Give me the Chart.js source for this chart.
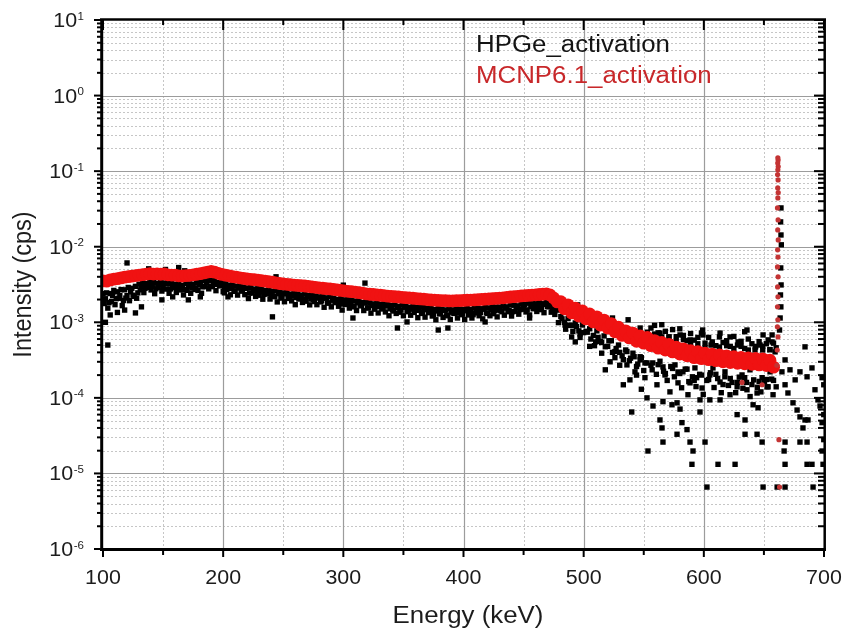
<!DOCTYPE html>
<html>
<head>
<meta charset="utf-8">
<script src="https://cdn.jsdelivr.net/npm/chart.js@4.4.0/dist/chart.umd.min.js"></script>
<style>
  html, body { margin: 0; padding: 0; background: #fff; }
  #wrap { width: 844px; height: 632px; }
</style>
</head>
<body>
<div id="wrap"><canvas id="chart" width="844" height="632"></canvas></div>
<script>
// energies of the dense continuum, read every 3 keV
const bandEnergy = [
  100,103,106,109,112,115,118,121,124,127,
  130,133,136,139,142,145,148,151,154,157,
  160,163,166,169,172,175,178,181,184,187,
  190,193,196,199,202,205,208,211,214,217,
  220,223,226,229,232,235,238,241,244,247,
  250,253,256,259,262,265,268,271,274,277,
  280,283,286,289,292,295,298,301,304,307,
  310,313,316,319,322,325,328,331,334,337,
  340,343,346,349,352,355,358,361,364,367,
  370,373,376,379,382,385,388,391,394,397,
  400,403,406,409,412,415,418,421,424,427,
  430,433,436,439,442,445,448,451,454,457,
  460,463,466,469,472,475,478,481,484,487,
  490,493,496,499,502,505,508,511,514,517,
  520,523,526,529,532,535,538,541,544,547,
  550,553,556,559,562,565,568,571,574,577,
  580,583,586,589,592,595,598,601,604,607,
  610,613,616,619,622,625,628,631,634,637,
  640,643,646,649,652,655,658
];

// MCNP6.1 simulated spectrum (cps) at bandEnergy
const mcnpCps = [
  3.53e-3,3.50e-3,3.64e-3,3.72e-3,3.78e-3,3.87e-3,3.95e-3,4.02e-3,4.08e-3,4.15e-3,
  4.20e-3,4.26e-3,4.33e-3,4.40e-3,4.35e-3,4.38e-3,4.32e-3,4.36e-3,4.25e-3,4.22e-3,
  4.20e-3,4.12e-3,4.10e-3,4.14e-3,4.18e-3,4.25e-3,4.32e-3,4.40e-3,4.50e-3,4.62e-3,
  4.70e-3,4.60e-3,4.45e-3,4.30e-3,4.20e-3,4.12e-3,4.02e-3,3.95e-3,3.88e-3,3.80e-3,
  3.74e-3,3.70e-3,3.66e-3,3.62e-3,3.55e-3,3.50e-3,3.44e-3,3.40e-3,3.32e-3,3.26e-3,
  3.22e-3,3.18e-3,3.14e-3,3.10e-3,3.08e-3,3.05e-3,3.02e-3,2.98e-3,2.94e-3,2.90e-3,
  2.86e-3,2.82e-3,2.79e-3,2.76e-3,2.72e-3,2.68e-3,2.64e-3,2.60e-3,2.57e-3,2.54e-3,
  2.51e-3,2.47e-3,2.43e-3,2.38e-3,2.35e-3,2.33e-3,2.30e-3,2.28e-3,2.25e-3,2.22e-3,
  2.20e-3,2.18e-3,2.16e-3,2.14e-3,2.12e-3,2.10e-3,2.08e-3,2.06e-3,2.04e-3,2.02e-3,
  2.00e-3,1.98e-3,1.96e-3,1.95e-3,1.94e-3,1.93e-3,1.92e-3,1.92e-3,1.93e-3,1.94e-3,
  1.95e-3,1.96e-3,1.97e-3,1.98e-3,2.00e-3,2.01e-3,2.02e-3,2.04e-3,2.06e-3,2.07e-3,
  2.09e-3,2.11e-3,2.13e-3,2.16e-3,2.18e-3,2.20e-3,2.23e-3,2.25e-3,2.27e-3,2.29e-3,
  2.31e-3,2.33e-3,2.35e-3,2.37e-3,2.30e-3,2.10e-3,1.86e-3,1.87e-3,1.51e-3,1.70e-3,
  1.33e-3,1.54e-3,1.21e-3,1.41e-3,1.11e-3,1.29e-3,1.01e-3,1.18e-3,9.2e-4,1.07e-3,
  8.4e-4,9.6e-4,7.5e-4,8.6e-4,6.7e-4,7.7e-4,6.2e-4,7.2e-4,5.6e-4,6.6e-4,
  5.3e-4,6.3e-4,4.9e-4,5.7e-4,4.55e-4,5.4e-4,4.3e-4,5.1e-4,4.05e-4,4.7e-4,
  3.8e-4,4.45e-4,3.6e-4,4.2e-4,3.4e-4,4.1e-4,3.3e-4,3.9e-4,3.2e-4,3.8e-4,
  3.1e-4,3.7e-4,3.0e-4,3.6e-4,2.93e-4,3.5e-4,2.87e-4,3.43e-4,2.82e-4,3.38e-4,
  2.78e-4,3.32e-4,2.73e-4,3.28e-4,2.68e-4,3.15e-4,2.55e-4
];

// MCNP6.1 points in the 662 keV photopeak and a few strays
const mcnpPeakEnergy = [
  661.6,661.8,661.5,661.9,661.6,661.4,661.8,661.5,661.9,661.6,
  661.3,661.8,661.5,661.9,661.4,661.7,661.3,661.8,661.4,661.7,
  661.3,661.6,661.2,661.7,661.1,660.8,662.5,663.0,648.5,631.8
];
const mcnpPeakCps = [
  0.150,0.140,0.128,0.115,0.104,0.090,0.0765,0.060,0.052,0.0442,
  0.0326,0.0226,0.0167,0.0123,9.1e-3,7.3e-3,5.4e-3,4.0e-3,2.94e-3,2.17e-3,
  1.60e-3,1.08e-3,8.7e-4,6.4e-4,4.3e-4,2.7e-4,2.8e-5,6.6e-6,1.49e-4,1.6e-4
];

// HPGe measured spectrum (cps) at bandEnergy
const hpgeBandCps = [
  2.40e-3,2.45e-3,2.40e-3,2.64e-3,2.53e-3,2.71e-3,2.69e-3,2.89e-3,2.82e-3,2.99e-3,
  3.19e-3,3.32e-3,3.25e-3,3.48e-3,3.35e-3,3.29e-3,3.37e-3,3.31e-3,3.36e-3,3.25e-3,
  3.19e-3,3.21e-3,3.08e-3,3.27e-3,3.22e-3,3.19e-3,3.37e-3,3.34e-3,3.56e-3,3.56e-3,
  3.57e-3,3.59e-3,3.34e-3,3.40e-3,3.23e-3,3.09e-3,3.14e-3,3.00e-3,3.07e-3,2.93e-3,
  2.84e-3,2.89e-3,2.75e-3,2.86e-3,2.73e-3,2.63e-3,2.68e-3,2.58e-3,2.62e-3,2.51e-3,
  2.45e-3,2.48e-3,2.36e-3,2.45e-3,2.37e-3,2.29e-3,2.36e-3,2.26e-3,2.32e-3,2.23e-3,
  2.17e-3,2.20e-3,2.09e-3,2.18e-3,2.09e-3,2.01e-3,2.06e-3,1.98e-3,2.03e-3,1.96e-3,
  1.91e-3,1.93e-3,1.82e-3,1.88e-3,1.81e-3,1.75e-3,1.79e-3,1.73e-3,1.78e-3,1.71e-3,
  1.67e-3,1.70e-3,1.62e-3,1.69e-3,1.63e-3,1.58e-3,1.62e-3,1.57e-3,1.61e-3,1.56e-3,
  1.52e-3,1.54e-3,1.47e-3,1.54e-3,1.49e-3,1.45e-3,1.50e-3,1.46e-3,1.52e-3,1.49e-3,
  1.48e-3,1.53e-3,1.48e-3,1.56e-3,1.54e-3,1.51e-3,1.58e-3,1.55e-3,1.63e-3,1.59e-3,
  1.59e-3,1.65e-3,1.60e-3,1.71e-3,1.68e-3,1.65e-3,1.74e-3,1.71e-3,1.79e-3,1.76e-3,
  1.76e-3,1.82e-3,1.76e-3,1.87e-3,1.77e-3,1.58e-3,1.45e-3,1.19e-3,1.00e-3,1.12e-3,
  9.1e-4,9.8e-4,7.7e-4,9.2e-4,7.6e-4,8.2e-4,6.7e-4,7.7e-4,5.6e-4,6.6e-4,
  4.8e-4,5.7e-4,4.1e-4,5.0e-4,3.6e-4,4.3e-4,3.1e-4,3.9e-4,2.6e-4,3.5e-4,
  2.3e-4,7.4e-4,2.7e-4,7.0e-4,2.75e-4,6.4e-4,2.1e-4,6.4e-4,2.45e-4,5.6e-4,
  2.1e-4,5.9e-4,2.4e-4,5.2e-4,1.7e-4,5.2e-4,2.0e-4,4.6e-4,1.75e-4,5.2e-4,
  2.05e-4,4.7e-4,1.5e-4,4.9e-4,1.8e-4,4.5e-4,1.6e-4,4.8e-4,1.85e-4,4.3e-4,
  1.5e-4,4.8e-4,1.65e-4,4.3e-4,1.75e-4,4.35e-4,1.7e-4
];

// HPGe middle of the continuum mass
const hpgeMidEnergy = [
  102,105,108,111,114,117,120,123,126,129,
  132,135,138,141,144,147,150,153,156,159,
  162,165,168,171,174,177,180,183,186,189,
  192,195,198,201,204,207,210,213,216,219,
  222,225,228,231,234,237,240,243,246,249,
  252,255,258,261,264,267,270,273,276,279,
  282,285,288,291,294,297,300,303,306,309,
  312,315,318,321,324,327,330,333,336,339,
  342,345,348,351,354,357,360,363,366,369,
  372,375,378,381,384,387,390,393,396,399,
  402,405,408,411,414,417,420,423,426,429,
  432,435,438,441,444,447,450,453,456,459,
  462,465,468,471,474
];
const hpgeMidCps = [
  2.05e-3,1.82e-3,2.26e-3,2.05e-3,2.27e-3,1.94e-3,2.25e-3,2.53e-3,2.20e-3,2.45e-3,
  2.94e-3,2.81e-3,3.16e-3,2.99e-3,2.78e-3,3.15e-3,2.89e-3,3.23e-3,2.76e-3,3.00e-3,
  2.90e-3,2.88e-3,2.71e-3,3.02e-3,2.84e-3,2.72e-3,3.11e-3,2.95e-3,3.33e-3,3.00e-3,
  3.34e-3,3.17e-3,3.12e-3,2.84e-3,3.07e-3,2.80e-3,2.57e-3,2.84e-3,2.60e-3,2.81e-3,
  2.43e-3,2.63e-3,2.53e-3,2.53e-3,2.34e-3,2.56e-3,2.34e-3,2.18e-3,2.39e-3,2.18e-3,
  2.38e-3,2.07e-3,2.23e-3,2.14e-3,2.16e-3,2.01e-3,2.20e-3,2.03e-3,1.88e-3,2.09e-3,
  1.92e-3,2.09e-3,1.81e-3,1.96e-3,1.88e-3,1.88e-3,1.74e-3,1.90e-3,1.75e-3,1.63e-3,
  1.81e-3,1.65e-3,1.80e-3,1.55e-3,1.67e-3,1.61e-3,1.61e-3,1.50e-3,1.64e-3,1.51e-3,
  1.41e-3,1.57e-3,1.45e-3,1.58e-3,1.38e-3,1.49e-3,1.44e-3,1.44e-3,1.35e-3,1.47e-3,
  1.36e-3,1.27e-3,1.41e-3,1.31e-3,1.44e-3,1.25e-3,1.36e-3,1.32e-3,1.35e-3,1.28e-3,
  1.42e-3,1.33e-3,1.26e-3,1.43e-3,1.34e-3,1.49e-3,1.31e-3,1.45e-3,1.42e-3,1.45e-3,
  1.38e-3,1.54e-3,1.45e-3,1.38e-3,1.57e-3,1.47e-3,1.65e-3,1.46e-3,1.61e-3,1.58e-3,
  1.62e-3,1.54e-3,1.72e-3,1.61e-3,1.47e-3
];

// HPGe lower edge of the continuum
const hpgeLowerEnergy = [
  101,104,107,110,113,116,119,122,125,128,
  131,134,137,140,143,146,149,152,155,158,
  161,164,167,170,173,176,179,182,185,188,
  191,194,197,200,203,206,209,212,215,218,
  221,224,227,230,233,236,239,242,245,248,
  251,254,257,260,263,266,269,272,275,278,
  281,284,287,290,293,296,299,302,305,308,
  311,314,317,320,323,326,329,332,335,338,
  341,344,347,350,353,356,359,362,365,368,
  371,374,377,380,383,386,389,392,395,398,
  401,404,407,410,413,416,419,422,425,428,
  431,434,437,440,443,446,449,452,455,458,
  461,464,467,470,473,476,479,482,485,488,
  491,494,497,500,503,506,509,512,515,518,
  521,524,527,530,533,536,539,542,545,548,
  551
];
const hpgeLowerCps = [
  1.77e-3,1.54e-3,1.89e-3,1.71e-3,2.08e-3,1.66e-3,2.09e-3,1.93e-3,2.28e-3,2.08e-3,
  2.69e-3,2.47e-3,2.90e-3,2.68e-3,2.39e-3,2.89e-3,2.59e-3,2.75e-3,2.42e-3,2.87e-3,
  2.48e-3,2.68e-3,2.30e-3,2.65e-3,2.42e-3,2.85e-3,2.64e-3,2.42e-3,2.97e-3,2.77e-3,
  2.96e-3,2.62e-3,3.03e-3,2.54e-3,2.73e-3,2.31e-3,2.57e-3,2.29e-3,2.60e-3,2.32e-3,
  2.06e-3,2.44e-3,2.20e-3,2.28e-3,2.02e-3,2.38e-3,2.03e-3,2.21e-3,1.86e-3,2.09e-3,
  1.87e-3,2.13e-3,1.92e-3,1.71e-3,2.03e-3,1.83e-3,1.90e-3,1.70e-3,2.00e-3,1.71e-3,
  1.86e-3,1.58e-3,1.79e-3,1.60e-3,1.82e-3,1.63e-3,1.45e-3,1.72e-3,1.54e-3,1.60e-3,
  1.43e-3,1.68e-3,1.43e-3,1.55e-3,1.32e-3,1.49e-3,1.33e-3,1.53e-3,1.37e-3,1.22e-3,
  1.45e-3,1.31e-3,1.36e-3,1.22e-3,1.44e-3,1.24e-3,1.35e-3,1.15e-3,1.31e-3,1.17e-3,
  1.34e-3,1.21e-3,1.08e-3,1.29e-3,1.16e-3,1.22e-3,1.09e-3,1.31e-3,1.14e-3,1.26e-3,
  1.09e-3,1.25e-3,1.14e-3,1.33e-3,1.22e-3,1.11e-3,1.33e-3,1.22e-3,1.30e-3,1.18e-3,
  1.42e-3,1.24e-3,1.38e-3,1.21e-3,1.40e-3,1.28e-3,1.49e-3,1.37e-3,1.25e-3,1.51e-3,
  1.39e-3,1.47e-3,1.34e-3,1.61e-3,1.36e-3,1.27e-3,9.9e-4,1.11e-3,8.1e-4,9.1e-4,
  7.6e-4,8.8e-4,6.3e-4,7.3e-4,7.4e-4,6.0e-4,4.9e-4,6.3e-4,5.4e-4,4.75e-4,
  5.7e-4,4.0e-4,4.5e-4,4.0e-4,3.2e-4,4.1e-4,3.35e-4,3.5e-4,2.8e-4,3.4e-4,
  2.9e-4
];

// HPGe cluster above the MCNP band, 556-658 keV
const hpgeUpperEnergy = [
  556,559,562,565,568,571,574,577,580,583,
  586,589,592,595,598,601,604,607,610,613,
  616,619,622,625,628,631,634,637,640,643,
  646,649,652,655,658
];
const hpgeUpperCps = [
  8.4e-4,9.1e-4,7.25e-4,9.3e-4,7.6e-4,6.4e-4,8.0e-4,6.45e-4,8.2e-4,6.7e-4,
  5.7e-4,7.1e-4,5.8e-4,6.3e-4,7.2e-4,5.3e-4,6.3e-4,5.5e-4,4.9e-4,6.4e-4,
  5.4e-4,5.7e-4,4.8e-4,6.5e-4,5.0e-4,5.6e-4,4.5e-4,6.0e-4,5.2e-4,4.7e-4,
  5.55e-4,4.8e-4,5.2e-4,4.35e-4,5.3e-4
];

// HPGe cloud below the MCNP band, 557-657 keV
const hpgeTailEnergy = [
  557.5,560.5,563.5,566.5,569.5,572.5,575.5,578.5,581.5,584.5,
  587.5,590.5,593.5,596.5,599.5,602.5,605.5,608.5,611.5,614.5,
  617.5,620.5,623.5,626.5,629.5,632.5,635.5,638.5,641.5,644.5,
  647.5,650.5,653.5,656.5
];
const hpgeTailCps = [
  2.9e-4,2.05e-4,3.05e-4,2.25e-4,1.7e-4,2.6e-4,1.9e-4,2.2e-4,1.36e-4,2.4e-4,
  1.64e-4,1.9e-4,1.41e-4,2.05e-4,1.11e-4,1.7e-4,2.15e-4,1.37e-4,1.8e-4,1.17e-4,
  1.9e-4,1.46e-4,1.6e-4,1.17e-4,1.88e-4,1.34e-4,1.6e-4,1.04e-4,1.73e-4,1.38e-4,
  1.2e-4,1.63e-4,1.4e-4,1.77e-4
];

// HPGe scattered channels, high-energy tail and photopeak
const hpgeScatterEnergy = [
  102,104,106,112,118,120,127,132,138,152,163,168,149,158,171,181,201,204,
  241,244,300,308,318,345,353,379,387,418,455,
  484.5,490,493,495,497,505,510,515,518,522,524,526,530,533,537,538.5,540,544,548,553.5,
  552.7,566,578.5,588.5,594,605,613.5,627.7,635.9,644.3,652.6,660.2,
  552.7,566,577.7,596.8,605,613.5,641,645.1,557.7,573.5,580.2,596.8,627.7,634.3,
  563.5,565.2,581.8,586,566,577.7,588.5,601,634.3,644.3,648.5,591,
  590.1,611.8,626,602.6,649.3,661,667.6,690.9,
  536,542.7,547,551,557,561,567.7,571.8,576,582.6,586.8,592.6,598.5,607.6,
  617.6,621.8,631.8,638.4,648.5,655.1,657.6,
  563.5,580.2,599.3,613.5,621.8,635.9,649.3,653.5,646.8,547,557,571.8,588.5,
  606,628.5,642.6,656.8,659.3,599,634,656.8,660.2,
  667.6,671.7,680,690,685.9,698.4,684.2,667.6,670,674.2,677.6,680,684.2,686.7,
  696.7,698.4,666.8,667.6,680,685.9,682.5,698.4,685.9,690,667.6,699.2,692.5,695,
  676,665,699.8,699.8,699.8,
  664.2,663.9,664.2,664.5,664.0,664.3,663.8,664.1,663.5,663.0
];
const hpgeScatterCps = [
  1.0e-3,5.0e-4,1.25e-3,1.35e-3,1.45e-3,6.1e-3,1.33e-3,1.60e-3,5.1e-3,5.0e-3,5.3e-3,4.8e-3,1.98e-3,2.17e-3,1.98e-3,2.17e-3,2.45e-3,2.17e-3,
  1.18e-3,4.0e-3,3.1e-3,1.14e-3,3.3e-3,8.4e-4,1.01e-3,7.9e-4,8.4e-4,1.01e-3,1.14e-3,
  9.2e-4,6.4e-4,5.5e-4,1.70e-3,7.0e-4,4.8e-4,5.5e-4,3.9e-4,2.35e-4,3.0e-4,1.14e-3,3.4e-4,2.7e-4,1.49e-4,1.08e-3,1.73e-4,6.5e-5,2.0e-4,1.3e-4,1.98e-5,
  2.9e-4,2.57e-4,1.58e-4,1.58e-4,1.85e-4,2.01e-4,1.62e-4,1.40e-4,1.28e-4,1.16e-4,1.40e-4,1.40e-4,
  1.0e-4,8.9e-5,8.6e-5,9.4e-5,9.4e-5,9.4e-5,8.1e-5,7.4e-5,7.8e-5,8.1e-5,7.1e-5,6.5e-5,6.0e-5,5.1e-5,
  5.1e-5,4.0e-5,4.7e-5,3.8e-5,2.6e-5,3.3e-5,2.6e-5,2.6e-5,3.3e-5,3.3e-5,2.6e-5,1.98e-5,
  1.32e-5,1.32e-5,1.32e-5,6.6e-6,6.6e-6,6.6e-6,6.6e-6,6.6e-6,
  2.73e-4,2.21e-4,3.18e-4,1.85e-4,2.35e-4,1.49e-4,2.01e-4,1.2e-4,2.73e-4,2.21e-4,1.1e-4,2.49e-4,1.35e-4,2.49e-4,
  2.21e-4,1.1e-4,2.01e-4,2.35e-4,1.85e-4,2.21e-4,1.1e-4,
  7.2e-4,6.8e-4,6.8e-4,7.2e-4,6.4e-4,7.9e-4,6.8e-4,5.85e-4,5.0e-4,8.4e-4,6.2e-4,5.5e-4,5.85e-4,
  5.0e-4,5.5e-4,4.3e-4,5.5e-4,4.06e-4,7.9e-4,7.5e-4,6.8e-4,4.6e-4,
  3.18e-4,2.35e-4,2.21e-4,2.49e-4,1.90e-4,1.85e-4,4.73e-4,1.49e-4,1.16e-4,8.6e-5,6.9e-5,5.6e-5,5.1e-5,5.1e-5,
  7.8e-5,4.7e-5,1.98e-5,2.6e-5,2.6e-5,2.6e-5,4.0e-5,1.98e-5,1.32e-5,1.32e-5,1.32e-5,1.32e-5,1.28e-4,9.4e-5,
  1.73e-4,2.21e-4,1.49e-4,6.0e-5,2.8e-5,
  0.0326,0.0213,0.0143,0.0106,5.24e-3,3.12e-3,2.30e-3,1.60e-3,1.14e-3,7.9e-4
];

const seriesNames = ['HPGe_activation', 'MCNP6.1_activation'];
const xTicks = [100, 200, 300, 400, 500, 600, 700];
const xMinorTicks = [150, 250, 350, 450, 550, 650];
const yExponents = [1, 0, -1, -2, -3, -4, -5, -6];
const xTitle = 'Energy (keV)';
const yTitle = 'Intensity (cps)';

const FONT = '"Liberation Sans", Arial, sans-serif';
const SX = 1.1; // the original figure is slightly stretched sideways

function toPoints(xs, ys) {
  return xs.map((x, i) => ({ x: x, y: ys[i] }));
}

const mcnpPoints = toPoints(bandEnergy, mcnpCps).concat(toPoints(mcnpPeakEnergy, mcnpPeakCps));
const hpgePoints = toPoints(bandEnergy, hpgeBandCps).concat(
  toPoints(hpgeMidEnergy, hpgeMidCps),
  toPoints(hpgeLowerEnergy, hpgeLowerCps),
  toPoints(hpgeUpperEnergy, hpgeUpperCps),
  toPoints(hpgeTailEnergy, hpgeTailCps),
  toPoints(hpgeScatterEnergy, hpgeScatterCps)
);
const mcnpRadius = mcnpPoints.map((p, i) => (i < bandEnergy.length ? 6.4 : 2.6));
const mcnpColor = mcnpPoints.map((p, i) => (i < bandEnergy.length ? '#f01212' : '#c43434'));

function wideText(ctx, str, x, y, size, align, color) {
  ctx.save();
  ctx.font = size + 'px ' + FONT;
  ctx.fillStyle = color;
  ctx.textBaseline = 'alphabetic';
  ctx.textAlign = 'left';
  const w = ctx.measureText(str).width * SX;
  let left = x;
  if (align === 'center') left = x - w / 2;
  if (align === 'right') left = x - w;
  ctx.translate(left, y);
  ctx.scale(SX, 1);
  ctx.fillText(str, 0, 0);
  ctx.restore();
  return w;
}

function minorValues() {
  const out = [];
  for (let e = -6; e < 1; e++) {
    for (let k = 2; k <= 9; k++) out.push(k * Math.pow(10, e));
  }
  return out;
}

const gridPlugin = {
  id: 'originGrid',
  beforeDatasetsDraw(chart) {
    const { ctx, chartArea: a, scales: { x, y } } = chart;
    ctx.save();
    ctx.lineWidth = 1;
    ctx.strokeStyle = '#c6c6c6';
    ctx.setLineDash([2, 2]);
    xMinorTicks.forEach(v => {
      const px = Math.round(x.getPixelForValue(v)) + 0.5;
      ctx.beginPath(); ctx.moveTo(px, a.top); ctx.lineTo(px, a.bottom); ctx.stroke();
    });
    minorValues().forEach(v => {
      const py = Math.round(y.getPixelForValue(v)) + 0.5;
      ctx.beginPath(); ctx.moveTo(a.left, py); ctx.lineTo(a.right, py); ctx.stroke();
    });
    ctx.setLineDash([]);
    ctx.strokeStyle = '#9c9c9c';
    ctx.lineWidth = 1.2;
    xTicks.slice(1, -1).forEach(v => {
      const px = Math.round(x.getPixelForValue(v)) + 0.5;
      ctx.beginPath(); ctx.moveTo(px, a.top); ctx.lineTo(px, a.bottom); ctx.stroke();
    });
    yExponents.slice(1, -1).forEach(e => {
      const py = Math.round(y.getPixelForValue(Math.pow(10, e))) + 0.5;
      ctx.beginPath(); ctx.moveTo(a.left, py); ctx.lineTo(a.right, py); ctx.stroke();
    });
    ctx.restore();
  }
};

const framePlugin = {
  id: 'originFrame',
  afterDatasetsDraw(chart) {
    const { ctx, chartArea: a, scales: { x, y } } = chart;
    ctx.save();
    ctx.strokeStyle = '#000';
    ctx.lineWidth = 2;
    const seg = (x1, y1, x2, y2) => { ctx.beginPath(); ctx.moveTo(x1, y1); ctx.lineTo(x2, y2); ctx.stroke(); };
    xTicks.forEach(v => {
      const px = x.getPixelForValue(v);
      seg(px, a.bottom, px, a.bottom + 8);
      seg(px, a.top, px, a.top + 10);
    });
    xMinorTicks.forEach(v => {
      const px = x.getPixelForValue(v);
      seg(px, a.bottom, px, a.bottom + 6);
      seg(px, a.top, px, a.top + 5);
    });
    yExponents.forEach(e => {
      const py = y.getPixelForValue(Math.pow(10, e));
      seg(a.left - 9, py, a.left, py);
      seg(a.right - 10, py, a.right, py);
    });
    minorValues().forEach(v => {
      const py = y.getPixelForValue(v);
      seg(a.left - 6, py, a.left, py);
      seg(a.right - 6, py, a.right, py);
    });
    // axis frame
    ctx.lineWidth = 3;
    seg(a.left - 1.3, a.top - 1, a.left - 1.3, a.bottom + 2);
    seg(a.left - 3, a.bottom + 0.5, a.right + 2, a.bottom + 0.5);
    ctx.lineWidth = 2.5;
    seg(a.left - 3, a.top - 0.5, a.right + 2, a.top - 0.5);
    seg(a.right + 0.7, a.top - 1, a.right + 0.7, a.bottom + 2);
    ctx.restore();
  },
  afterDraw(chart) {
    const { ctx, chartArea: a, scales: { x, y } } = chart;
    const ink = '#1c1c1c';
    xTicks.forEach(v => wideText(ctx, String(v), x.getPixelForValue(v), 584, 19.5, 'center', ink));
    yExponents.forEach(e => {
      const py = y.getPixelForValue(Math.pow(10, e));
      const ew = wideText(ctx, String(e), 84, py - 0.5, 10.5, 'right', ink);
      wideText(ctx, '10', 84 - ew - 0.5, py + 7, 19.5, 'right', ink);
    });
    wideText(ctx, xTitle, 468, 623, 23.5, 'center', ink);
    ctx.save();
    ctx.translate(31, (a.top + a.bottom) / 2);
    ctx.scale(SX, 1);
    ctx.rotate(-Math.PI / 2);
    ctx.font = '23.5px ' + FONT;
    ctx.fillStyle = ink;
    ctx.textAlign = 'center';
    ctx.textBaseline = 'alphabetic';
    ctx.fillText(yTitle, 0, 0);
    ctx.restore();
    wideText(ctx, seriesNames[0], 476, 52, 23.5, 'left', '#141414');
    wideText(ctx, seriesNames[1], 476, 83, 23.5, 'left', '#c8282a');
  }
};

new Chart(document.getElementById('chart').getContext('2d'), {
  type: 'scatter',
  data: {
    datasets: [
      {
        label: seriesNames[1],
        data: mcnpPoints,
        pointStyle: 'circle',
        pointRadius: mcnpRadius,
        pointBackgroundColor: mcnpColor,
        pointBorderWidth: 0,
        pointBorderColor: 'rgba(0,0,0,0)',
        order: 0,
        clip: 0
      },
      {
        label: seriesNames[0],
        data: hpgePoints,
        pointStyle: 'rect',
        pointRadius: 3.8,
        pointBackgroundColor: '#000',
        pointBorderWidth: 0,
        pointBorderColor: 'rgba(0,0,0,0)',
        order: 1,
        clip: 0
      }
    ]
  },
  options: {
    responsive: false,
    animation: false,
    devicePixelRatio: 1,
    layout: { padding: { left: 103, top: 20, right: 20, bottom: 83 } },
    scales: {
      x: { type: 'linear', display: false, min: 100, max: 700 },
      y: { type: 'logarithmic', display: false, min: 1e-6, max: 10 }
    },
    plugins: {
      legend: { display: false },
      tooltip: { enabled: false }
    }
  },
  plugins: [gridPlugin, framePlugin]
});
</script>
</body>
</html>
